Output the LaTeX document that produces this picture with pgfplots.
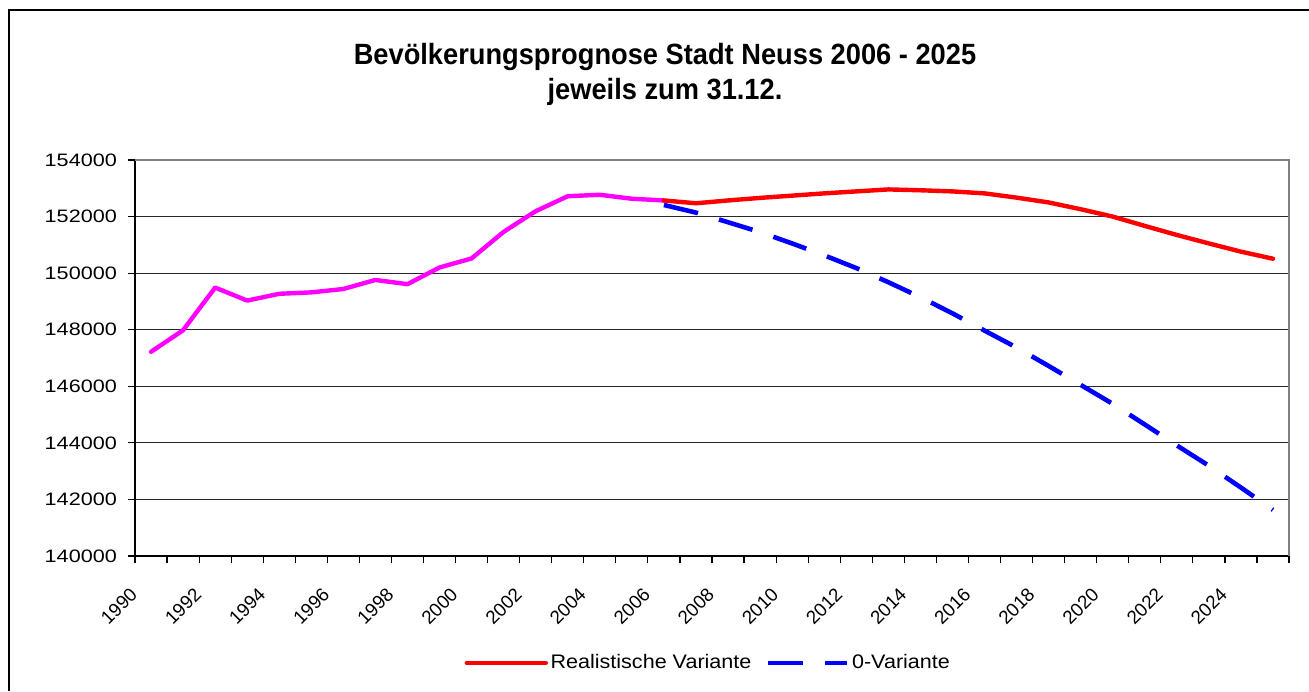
\documentclass[border=0pt]{standalone}
\usepackage{fontspec}
\setmainfont{Liberation Sans}
\newfontfamily\yfont[FakeStretch=1.2]{Liberation Sans}
\newfontfamily\legfont[FakeStretch=1.1]{Liberation Sans}
\newfontfamily\titfont[FakeStretch=0.93]{Liberation Sans}
\usepackage{pgfplots}
\pgfplotsset{compat=1.18}
\definecolor{cmag}{RGB}{255,0,255}
\definecolor{cred}{RGB}{255,0,0}
\definecolor{cblue}{RGB}{0,0,255}
\definecolor{cborder}{RGB}{128,128,128}

\pgfplotstableread{
year pop
1990 147220
1991 147980
1992 149490
1993 149030
1994 149270
1995 149320
1996 149440
1997 149760
1998 149610
1999 150200
2000 150520
2001 151460
2002 152190
2003 152720
2004 152770
2005 152630
2006 152570
}\tabhist

\pgfplotstableread{
year pop
2006 152570
2007 152470
2008 152570
2009 152660
2010 152740
2011 152820
2012 152890
2013 152960
2014 152930
2015 152890
2016 152820
2017 152670
2018 152500
2019 152260
2020 152000
2021 151670
2022 151350
2023 151050
2024 150760
2025 150510
}\tabreal

\pgfplotstableread{
year pop
2006 152410
2007 152140
2008 151800
2009 151450
2010 151050
2011 150630
2012 150180
2013 149680
2014 149150
2015 148580
2016 147970
2017 147370
2018 146720
2019 146050
2020 145380
2021 144650
2022 143910
2023 143190
2024 142420
2025 141630
}\tabnull

\begin{document}
\begin{tikzpicture}
\path[use as bounding box] (0,0) rectangle (654.5pt,345.5pt);
\draw[black, line width=1pt] (4.5pt,0pt) -- (4.5pt,340.5pt) -- (654.5pt,340.5pt);
\node[anchor=base, inner sep=0pt, font=\titfont\bfseries\fontsize{14.65pt}{17pt}\selectfont] at (332.5pt,313pt) {Bevölkerungsprognose Stadt Neuss 2006 - 2025};
\node[anchor=base, inner sep=0pt, font=\titfont\bfseries\fontsize{14.65pt}{17pt}\selectfont] at (332.5pt,295.5pt) {jeweils zum 31.12.};
\begin{axis}[
  at={(67.5pt,67.5pt)}, anchor=south west,
  scale only axis, width=577pt, height=198pt,
  xmin=1989.5, xmax=2025.5, ymin=140000, ymax=154000,
  axis x line*=bottom, axis y line*=left,
  axis line style={-, black, line width=1pt},
  clip mode=individual,
  xtick={1989.5,1991.5,...,2023.5},
  xticklabels={1990,1992,1994,1996,1998,2000,2002,2004,2006,2008,2010,2012,2014,2016,2018,2020,2022,2024},
  minor xtick={1990.5,1992.5,...,2024.5,2025.5},
  ytick={140000,142000,...,154000},
  yticklabels={140000,142000,144000,146000,148000,150000,152000,154000},
  scaled y ticks=false,
  tick align=outside, major tick length=3.5pt, minor tick length=3.5pt,
  tick style={black, line width=0.6pt},
  ymajorgrids, grid style={black!85, line width=0.5pt},
  yticklabel style={font=\yfont\fontsize{9pt}{10pt}\selectfont, anchor=east, inner sep=0pt, xshift=-5.4pt},
  xticklabel style={font=\fontsize{9.4pt}{10pt}\selectfont, xshift=-0.5pt, yshift=-14pt, rotate=45, anchor=east, inner sep=0pt},
  legend columns=2,
  legend style={at={(axis description cs:0.497,-0.270)}, anchor=center, draw=none, fill=none,
    font=\legfont\fontsize{9.8pt}{11pt}\selectfont, inner sep=0pt, nodes={inner sep=1.25pt},
    /tikz/every even column/.append style={column sep=6pt}},
  legend image code/.code={\draw[#1] (0pt,0pt) -- (39.5pt,0pt);},
]
\addplot[cmag, line width=2.2pt, line cap=round, line join=round, forget plot] table[x=year, y=pop] {\tabhist};
\addplot[cred, line width=2.2pt, line cap=round, line join=round] table[x=year, y=pop] {\tabreal};
\addlegendentry{Realistische Variante}
\addplot[cblue, line width=2.3pt, dash pattern=on 17.5pt off 11pt, line join=round] table[x=year, y=pop] {\tabnull};
\addlegendentry{0-Variante}
\draw[cborder, line width=1pt] (rel axis cs:0,1) -- (rel axis cs:1,1) -- (rel axis cs:1,0);
\end{axis}
\end{tikzpicture}
\end{document}
